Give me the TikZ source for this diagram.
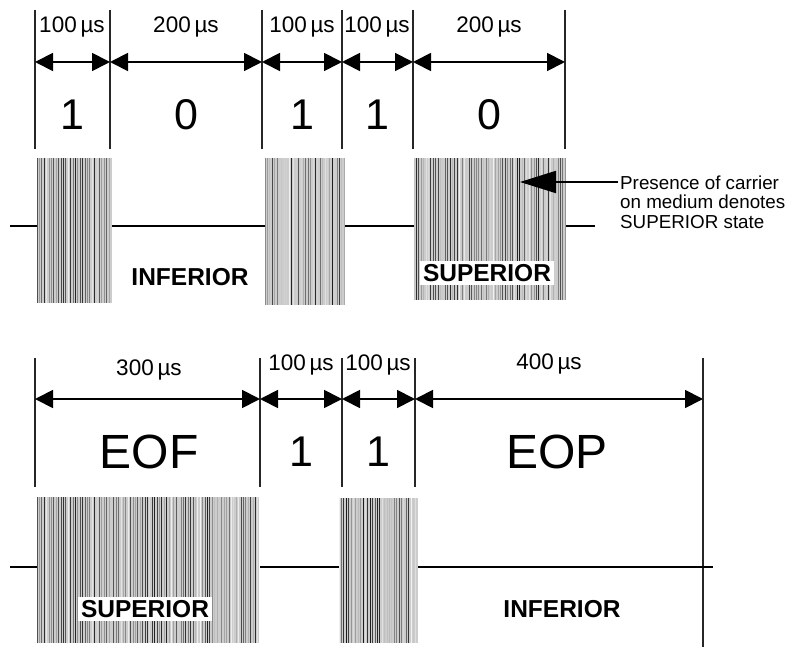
\documentclass[tikz,border=0pt]{standalone}
\usepackage{fontspec}
\setmainfont{Liberation Sans}
\usetikzlibrary{arrows.meta}
\tikzset{
  tick/.style={line width=1.5pt,black!85},
  dimarrow/.style={line width=1.8pt,{Triangle[length=18pt,width=18pt]}-{Triangle[length=18pt,width=18pt]}},
  medium/.style={line width=2pt},
  durlabel/.style={font=\fontsize{22.5}{22.5}\selectfont,inner sep=0pt},
  bitlabel/.style={font=\fontsize{43}{43}\selectfont,inner sep=0pt},
  fieldlabel/.style={font=\fontsize{48}{48}\selectfont,inner sep=0pt},
  statelabel/.style={font=\bfseries\fontsize{24.5}{24.5}\selectfont,inner sep=3pt},
  notelabel/.style={font=\fontsize{18.8}{19.5}\selectfont,align=left,inner sep=0pt,anchor=west},
}
\newcommand{\carrierblock}[4]{%
  \fill[black!20] (#1,#2) rectangle (#3,#4);
  \pgfmathsetseed{#1}
  \pgfmathsetmacro{\xs}{#1+2.4}
  \foreach \xx in {#1,\xs,...,#3}{
    \pgfmathsetmacro{\gg}{int(rnd*85+5)}
    \draw[black!\gg,line width=0.8pt] (\xx,#2) -- (\xx,#4);
  }
}
\begin{document}
\begin{tikzpicture}[x=1pt,y=-1pt]
\useasboundingbox (0,0) rectangle (795,647);
% ---------- top part ----------
\foreach \n/\xx in {t0/35,t1/110,t2/262,t3/342,t4/413,t5/565}{
  \coordinate (\n top) at (\xx,10);
  \coordinate (\n bot) at (\xx,149);
  \coordinate (\n a) at (\xx,62);
}
\foreach \n in {t0,t1,t2,t3,t4,t5}{\draw[tick] (\n top) -- (\n bot);}
\draw[dimarrow] (t0a) -- (t1a);
\draw[dimarrow] (t1a) -- (t2a);
\draw[dimarrow] (t2a) -- (t3a);
\draw[dimarrow] (t3a) -- (t4a);
\draw[dimarrow] (t4a) -- (t5a);
\node[durlabel] (d1) at (72,27) {100\,µs};
\node[durlabel] (d2) at (186,27) {200\,µs};
\node[durlabel] (d3) at (302,27) {100\,µs};
\node[durlabel] (d4) at (377,27) {100\,µs};
\node[durlabel] (d5) at (489,27) {200\,µs};
\node[bitlabel] (b1) at (72,115) {1};
\node[bitlabel] (b2) at (186,115) {0};
\node[bitlabel] (b3) at (302,115) {1};
\node[bitlabel] (b4) at (377,115) {1};
\node[bitlabel] (b5) at (489,115) {0};
% medium line
\coordinate (m0) at (10,226);
\coordinate (m1) at (37,226);
\coordinate (m2) at (112,226);
\coordinate (m3) at (265,226);
\coordinate (m4) at (345,226);
\coordinate (m5) at (414,226);
\coordinate (m6) at (566,226);
\coordinate (m7) at (595,226);
\draw[medium] (m0) -- (m1);
\draw[medium] (m2) -- (m3);
\draw[medium] (m4) -- (m5);
\draw[medium] (m6) -- (m7);
\carrierblock{37}{158}{112}{303}
\carrierblock{265}{158}{345}{305}
\carrierblock{414}{158}{566}{300}
\node[statelabel] (inf1) at (190,277) {INFERIOR};
\node[statelabel,fill=white] (sup1) at (487,273) {SUPERIOR};
% annotation
\node[notelabel] (note) at (620,202) {Presence of carrier\\on medium denotes\\SUPERIOR state};
\coordinate (notetip) at (520,182);
\draw[line width=2pt,-{Triangle[length=36pt,width=22pt]}] (note.west |- notetip) ++(-2,0) -- (notetip);
% ---------- bottom part ----------
\foreach \n/\xx in {u0/35,u1/260,u2/342,u3/415}{
  \coordinate (\n top) at (\xx,358);
  \coordinate (\n bot) at (\xx,487);
  \coordinate (\n a) at (\xx,399);
}
\coordinate (u4top) at (703,358);
\coordinate (u4bot) at (703,647);
\coordinate (u4a) at (703,399);
\foreach \n in {u0,u1,u2,u3,u4}{\draw[tick] (\n top) -- (\n bot);}
\draw[dimarrow] (u0a) -- (u1a);
\draw[dimarrow] (u1a) -- (u2a);
\draw[dimarrow] (u2a) -- (u3a);
\draw[dimarrow] (u3a) -- (u4a);
\node[durlabel] (e1) at (149,370) {300\,µs};
\node[durlabel] (e2) at (301,365) {100\,µs};
\node[durlabel] (e3) at (378,365) {100\,µs};
\node[durlabel] (e4) at (549,364) {400\,µs};
\node[fieldlabel] (f1) at (149,452) {EOF};
\node[bitlabel] (f2) at (301,452) {1};
\node[bitlabel] (f3) at (378,452) {1};
\node[fieldlabel] (f4) at (557,452) {EOP};
\coordinate (n0) at (10,567);
\coordinate (n1) at (37,567);
\coordinate (n2) at (260,567);
\coordinate (n3) at (339,567);
\coordinate (n4) at (418,567);
\coordinate (n5) at (713,567);
\draw[medium] (n0) -- (n1);
\draw[medium] (n2) -- (n3);
\draw[medium] (n4) -- (n5);
\carrierblock{37}{497}{259}{643}
\carrierblock{339}{498}{418}{643}
\node[statelabel,fill=white] (sup2) at (145,609) {SUPERIOR};
\node[statelabel] (inf2) at (562,609) {INFERIOR};
\end{tikzpicture}
\end{document}
